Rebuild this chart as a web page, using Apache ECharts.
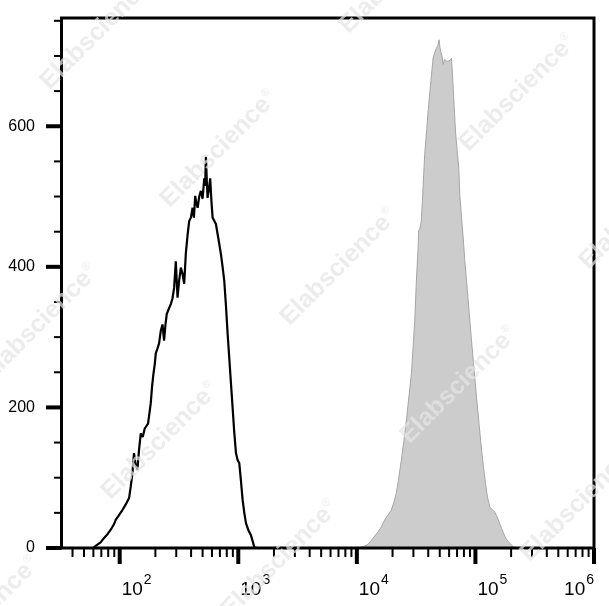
<!DOCTYPE html>
<html><head><meta charset="utf-8">
<script src="https://cdn.jsdelivr.net/npm/echarts@6/dist/echarts.min.js"></script>
<style>html,body{margin:0;padding:0;background:#fff}#c{width:609px;height:606px}</style>
</head><body><div id="c"></div>
<script>
// Unstained / isotype control (black outline)
const blackX = [33, 60, 62.7, 69, 73.6, 79.2, 84, 89, 92.5, 98, 105.4, 112.5, 120, 124, 128, 132, 136.5, 141, 145.6, 150.6, 156.4, 162.6, 173.4, 182.8, 187.5, 192.7, 197.7, 201.5, 208.3, 214.8, 222.1, 229.6, 236.8, 243.3, 249.5, 259.4, 269.8, 278.7, 287.7, 297.3, 307.4, 317, 328, 338.8, 349.9, 361.5, 373.6, 385.5, 398.4, 411.7, 422.4, 433.4, 443.8, 454.4, 468.3, 483.9, 500, 516.4, 525, 533.5, 543.6, 550.8, 565, 579.6, 593, 607.5, 626.6, 647.6, 680, 714, 737.6, 761.8, 787, 813, 839, 867, 895.6, 924.5, 956.5, 988, 1019, 1054, 1089, 1124, 1162, 1220, 1280, 1331, 1365, 1439, 4200];
const blackY = [0, 0, 3, 8, 14, 20, 26, 33, 40, 46, 54, 62, 71, 88, 106, 135, 118, 111, 140, 163, 158, 170, 177, 206, 230, 248, 262, 277, 284, 291, 309, 318, 295, 318, 333, 340, 347, 355, 370, 408, 356, 380, 399, 390, 376, 420, 445, 465, 470, 484, 470, 501, 490, 484, 500, 508, 497, 526, 515, 557, 520, 498, 510, 526, 495, 470, 468, 461, 440, 418, 400, 380, 345, 305, 271, 235, 200, 165, 135, 125, 121, 95, 68, 50, 35, 25, 18, 8, 1, 0, 0];
// Stained sample (grey filled)
const grayX = [10070, 11320, 12410, 13680, 15080, 16070, 17140, 18320, 19540, 20520, 21530, 22590, 23720, 24900, 26180, 27480, 28840, 29790, 30760, 31770, 32830, 33190, 34040, 34990, 36220, 37330, 38810, 40360, 42170, 43950, 45400, 46900, 48310, 49430, 50220, 51030, 52240, 53460, 54830, 55980, 57810, 59700, 61380, 62810, 65010, 66530, 67920, 70150, 72440, 73790, 76380, 78890, 81280, 84140, 88310, 92680, 97270, 102100, 107200, 112700, 117000, 121600, 126500, 132400, 139600, 145900, 150700, 155900, 160800, 166300, 171800, 177500, 183400, 189400, 201800, 214100];
const grayY = [0, 2, 5, 14, 23, 30, 40, 47, 54, 65, 78, 100, 125, 152, 182, 215, 248, 285, 323, 380, 427, 451, 455, 465, 515, 560, 595, 631, 665, 697, 705, 711, 715, 723, 712, 706, 700, 688, 695, 697, 692, 690, 694, 697, 654, 620, 593, 565, 540, 503, 470, 441, 410, 380, 338, 295, 255, 215, 177, 139, 115, 92, 72, 58, 54, 51, 46, 40, 34, 28, 22, 16, 12, 9, 4, 0];

const xMajorTicks = [100, 1000, 10000, 100000, 1000000];
const xTickExponents = ['2', '3', '4', '5', '6'];
const xMinorTicks = [40, 50, 60, 70, 80, 90,
  200, 300, 400, 500, 600, 700, 800, 900,
  2000, 3000, 4000, 5000, 6000, 7000, 8000, 9000,
  20000, 30000, 40000, 50000, 60000, 70000, 80000, 90000,
  200000, 300000, 400000, 500000, 600000, 700000, 800000, 900000];
const yMajorTicks = [0, 200, 400, 600];
const yTickLabels = ['0', '200', '400', '600'];
const yMinorTicks = [50, 100, 150, 250, 300, 350, 450, 500, 550, 650, 700, 750];

const X_MIN = 32.3, X_MAX = 1000000, Y_MIN = 0, Y_MAX = 754;

const watermarkCenters = [[99,31],[219,149],[339,267],[459,385],[579,503],[398,-25],[518,93],[638,211],[40,323],[160,441],[280,559],[-19,615]];

function xTick(len, w) {
  return function (params, api) {
    const p = api.coord([api.value(0), api.value(1)]);
    const y0 = params.coordSys.y + params.coordSys.height;
    return {type: 'line', silent: true, shape: {x1: p[0], y1: y0, x2: p[0], y2: y0 + len}, style: {stroke: '#000', lineWidth: w}};
  };
}
function yTick(len, w) {
  return function (params, api) {
    const p = api.coord([api.value(0), api.value(1)]);
    const x0 = params.coordSys.x;
    return {type: 'line', silent: true, shape: {x1: x0 - len, y1: p[1], x2: x0, y2: p[1]}, style: {stroke: '#000', lineWidth: w}};
  };
}

const chart = echarts.init(document.getElementById('c'), null, {renderer: 'canvas'});
const wmGraphics = watermarkCenters.map(c => ({
  type: 'text', x: c[0], y: c[1], rotation: Math.PI / 4, z: 100, silent: true,
  style: {
    text: '{a|Elabscience}{r|®}', align: 'center', verticalAlign: 'middle',
    rich: {
      a: {fontFamily: 'Liberation Sans', fontWeight: 'bold', fontSize: 25, fill: 'rgba(228,228,228,0.72)'},
      r: {fontFamily: 'Liberation Sans', fontSize: 11, fill: 'rgba(228,228,228,0.72)', verticalAlign: 'top', padding: [0, 0, 14, 1]}
    }
  }
}));

chart.setOption({
  animation: false,
  backgroundColor: '#fff',
  grid: {left: 61.5, right: 15, top: 18, bottom: 58, containLabel: false, outerBoundsMode: 'none',
         show: true, borderColor: '#000', borderWidth: 3, backgroundColor: 'transparent', z: 10},
  xAxis: {
    type: 'log', logBase: 10, min: X_MIN, max: X_MAX,
    axisLine: {show: false}, axisTick: {show: false}, splitLine: {show: false}, minorTick: {show: false},
    axisLabel: {
      show: true, margin: 25, align: 'left', padding: [0, 0, 0, 2], alignMaxLabel: 'right',
      formatter: function (v) {
        const i = xMajorTicks.findIndex(t => Math.abs(t - v) / t < 1e-6);
        return i < 0 ? '' : '{b|10}{s|' + xTickExponents[i] + '}';
      },
      rich: {
        b: {fontFamily: "'Liberation Sans Narrow', 'Liberation Sans'", fontSize: 19, lineHeight: 26, verticalAlign: 'bottom', color: '#000'},
        s: {fontFamily: "'Liberation Sans Narrow', 'Liberation Sans'", fontSize: 14, lineHeight: 14, verticalAlign: 'top', color: '#000', padding: [0, 0, 0, 1]}
      }
    }
  },
  yAxis: {
    type: 'value', min: Y_MIN, max: Y_MAX, interval: 200,
    axisLine: {show: false}, axisTick: {show: false}, splitLine: {show: false},
    axisLabel: {
      margin: 26.5, fontFamily: 'Liberation Sans', fontSize: 16, color: '#000',
      formatter: function (v) {
        const i = yMajorTicks.indexOf(v);
        return i < 0 ? '' : yTickLabels[i];
      }
    }
  },
  series: [
    {type: 'line', name: 'stained', data: grayX.map((x, i) => [x, grayY[i]]), showSymbol: false, symbol: 'none',
     lineStyle: {color: '#a5a5a5', width: 1}, areaStyle: {color: '#cccccc', opacity: 1}, z: 2},
    {type: 'line', name: 'control', data: blackX.map((x, i) => [x, blackY[i]]), showSymbol: false, symbol: 'none',
     lineStyle: {color: '#000', width: 2.2}, z: 3},
    {type: 'custom', data: xMajorTicks.map(v => [v, 0]), renderItem: xTick(16, 4), z: 20, clip: false},
    {type: 'custom', data: xMinorTicks.map(v => [v, 0]), renderItem: xTick(9, 2), z: 20, clip: false},
    {type: 'custom', data: yMajorTicks.map(v => [100, v]), renderItem: yTick(15.5, 4), z: 20, clip: false},
    {type: 'custom', data: yMinorTicks.map(v => [100, v]), renderItem: yTick(7.5, 2), z: 20, clip: false}
  ],
  graphic: wmGraphics
});
</script></body></html>
